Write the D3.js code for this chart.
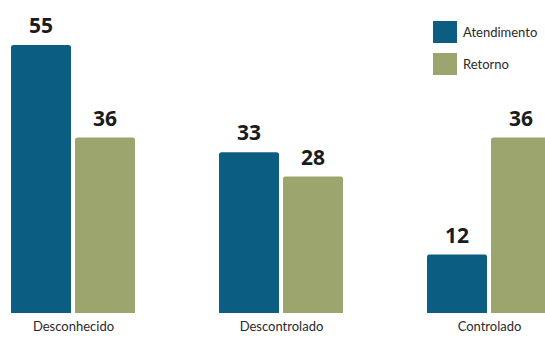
<!DOCTYPE html>
<html>
<head>
<meta charset="utf-8">
<script src="https://cdn.jsdelivr.net/npm/d3@7"></script>
<style>
  html, body { margin: 0; padding: 0; background: #fff; }
  svg { display: block; }
</style>
</head>
<body>
<svg id="chart" width="545" height="338"></svg>
<script>
// Categories and series
const categories = ["Desconhecido", "Descontrolado", "Controlado"];
const seriesNames = ["Atendimento", "Retorno"];
const atendimento = [55, 33, 12];
const retorno = [36, 28, 36];
const seriesColors = ["#0b5d82", "#9ba56d"];

const svg = d3.select("#chart");

const baseY = 313;
const y = d3.scaleLinear().domain([0, 55]).range([baseY, 45]);

// group centres
const xGroup = d3.scalePoint().domain(categories).range([73, 489]);
// bars inside a group
const xInner = d3.scaleBand().domain(seriesNames).range([-62, 62]).paddingInner(0.0625).paddingOuter(0);

const rows = categories.map((c, i) => ({
  cat: c,
  values: [
    { s: seriesNames[0], v: atendimento[i] },
    { s: seriesNames[1], v: retorno[i] }
  ]
}));

const color = d3.scaleOrdinal().domain(seriesNames).range(seriesColors);

const groups = svg.append("g").selectAll("g")
  .data(rows).join("g")
  .attr("transform", d => `translate(${xGroup(d.cat)},0)`);

// bars with slightly rounded top corners
groups.selectAll("path.bar")
  .data(d => d.values).join("path")
  .attr("class", "bar")
  .attr("fill", d => color(d.s))
  .attr("d", d => {
    const x0 = xInner(d.s), w = xInner.bandwidth();
    const yt = y(d.v), r = 2.5;
    return `M${x0},${baseY}V${yt + r}Q${x0},${yt} ${x0 + r},${yt}H${x0 + w - r}Q${x0 + w},${yt} ${x0 + w},${yt + r}V${baseY}Z`;
  });

// value labels
groups.selectAll("text.val")
  .data(d => d.values).join("text")
  .attr("class", "val")
  .attr("x", d => xInner(d.s) + xInner.bandwidth() / 2)
  .attr("y", d => y(d.v) - 12)
  .attr("text-anchor", "middle")
  .attr("font-family", "'Open Sans', sans-serif")
  .attr("font-weight", 700)
  .attr("font-size", 21)
  .attr("fill", "#1b1b1b")
  .text(d => d.v);

// category axis labels
const xAxis = d3.axisBottom(xGroup).tickSize(0).tickPadding(0);
const axisG = svg.append("g").attr("transform", `translate(0,${baseY + 9})`).call(xAxis);
axisG.select(".domain").remove();
axisG.selectAll("text")
  .attr("font-family", "Lato, sans-serif")
  .attr("font-size", 13)
  .attr("fill", "#2a2a2a")
  .attr("dy", "0.71em");

// legend
const legend = svg.append("g").attr("transform", "translate(433,21)");
const li = legend.selectAll("g").data(seriesNames).join("g")
  .attr("transform", (d, i) => `translate(0,${i * 32})`);
li.append("rect").attr("width", 24).attr("height", 22).attr("fill", d => color(d));
li.append("text")
  .attr("x", 30).attr("y", 11).attr("dy", "0.35em")
  .attr("font-family", "Lato, sans-serif")
  .attr("font-size", 13)
  .attr("fill", "#2a2a2a")
  .text(d => d);
</script>
</body>
</html>
